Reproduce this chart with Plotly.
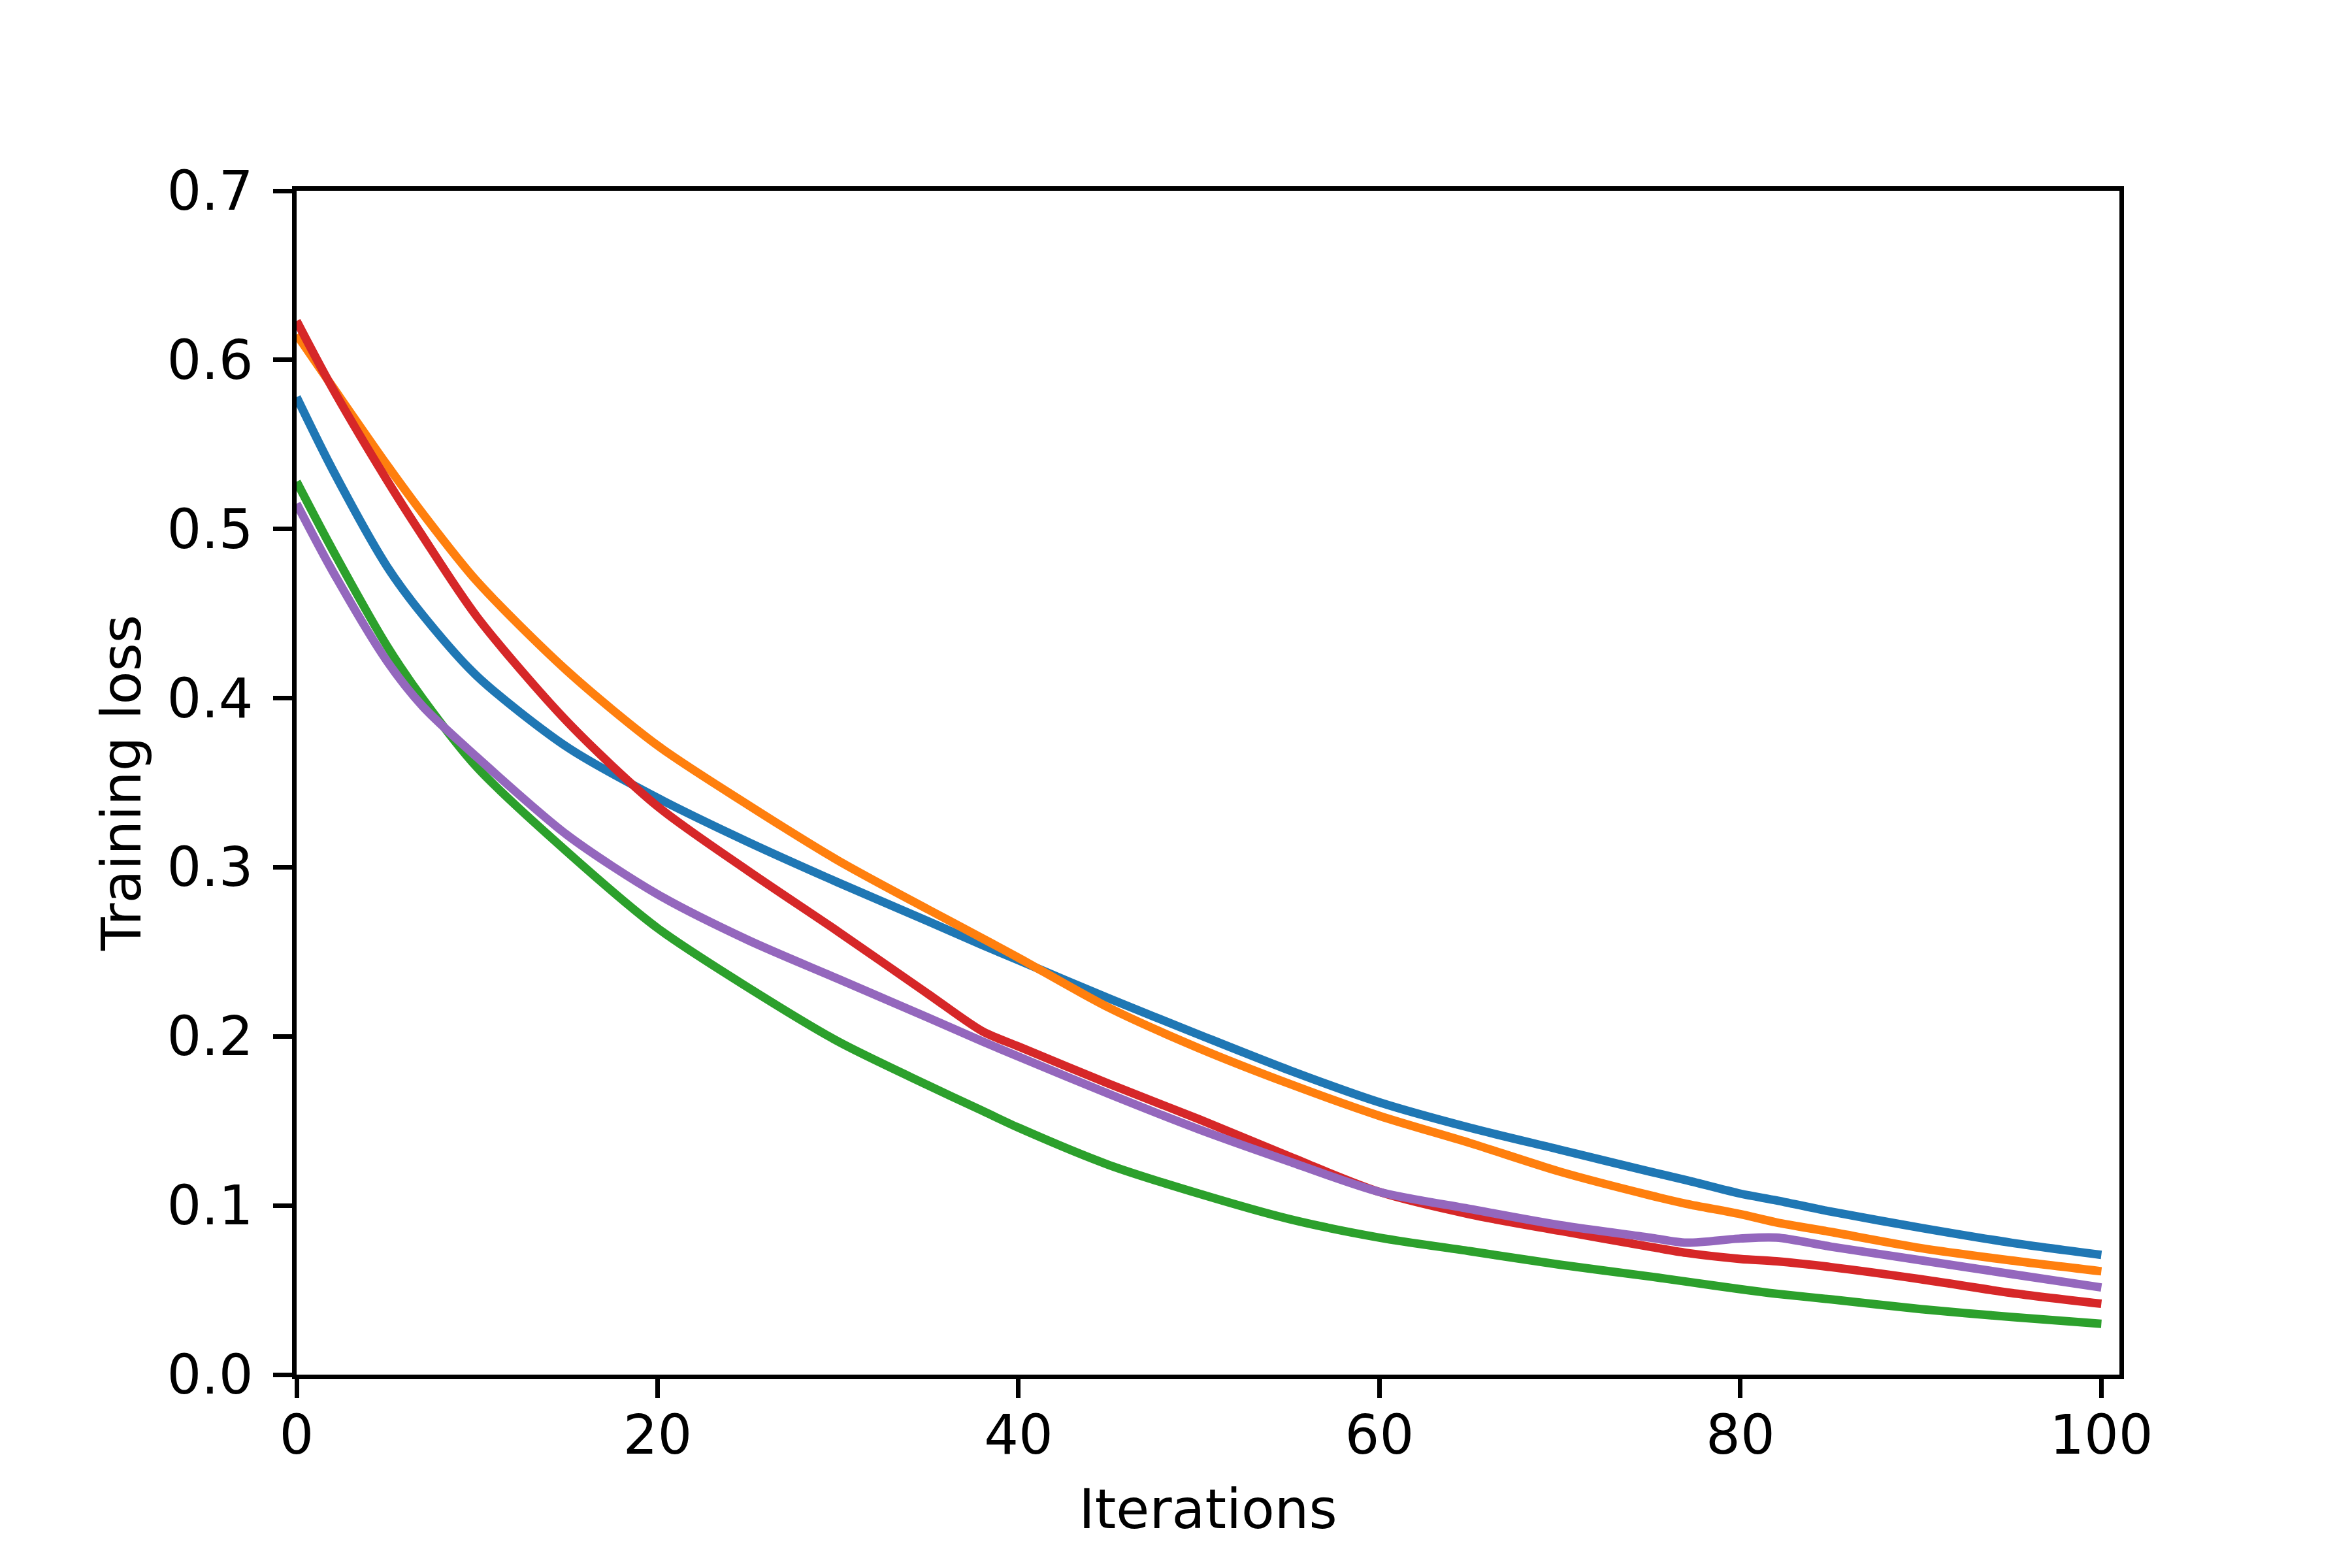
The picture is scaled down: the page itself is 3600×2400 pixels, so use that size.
import plotly.graph_objects as go

iterations = [0, 2, 5, 7, 10, 15, 20, 25, 30, 35, 38, 40, 45, 50, 55, 60,
              65, 70, 75, 77, 80, 82, 85, 90, 95, 100]

loss_blue = [0.578, 0.535, 0.478, 0.449, 0.413, 0.371, 0.341, 0.315, 0.291, 0.268,
             0.254, 0.245, 0.2225, 0.201, 0.180, 0.161, 0.146, 0.133, 0.120, 0.115,
             0.107, 0.103, 0.0964, 0.0868, 0.078, 0.0708]
loss_orange = [0.615, 0.584, 0.538, 0.509, 0.469, 0.416, 0.372, 0.337, 0.304, 0.275,
               0.258, 0.2465, 0.217, 0.193, 0.172, 0.153, 0.137, 0.120, 0.106, 0.101,
               0.0949, 0.090, 0.0844, 0.0748, 0.0675, 0.0611]
loss_green = [0.528, 0.4875, 0.431, 0.3995, 0.359, 0.309, 0.264, 0.229, 0.197, 0.171,
              0.156, 0.146, 0.124, 0.107, 0.092, 0.081, 0.073, 0.065, 0.058, 0.055,
              0.0505, 0.0478, 0.0445, 0.0387, 0.0341, 0.030]
loss_red = [0.623, 0.583, 0.529, 0.4955, 0.448, 0.386, 0.336, 0.298, 0.262, 0.225,
            0.203, 0.194, 0.172, 0.151, 0.129, 0.108, 0.0948, 0.085, 0.0756, 0.072,
            0.0684, 0.067, 0.0636, 0.0564, 0.0483, 0.0419]
loss_purple = [0.515, 0.475, 0.422, 0.395, 0.365, 0.319, 0.284, 0.257, 0.234, 0.211,
               0.197, 0.188, 0.166, 0.145, 0.126, 0.108, 0.098, 0.0884, 0.081, 0.078,
               0.0805, 0.081, 0.0757, 0.0676, 0.0595, 0.0515]

series = [
    (loss_blue, "#1f77b4"),
    (loss_orange, "#ff7f0e"),
    (loss_green, "#2ca02c"),
    (loss_red, "#d62728"),
    (loss_purple, "#9467bd"),
]

fig = go.Figure()
for vals, color in series:
    fig.add_trace(go.Scatter(
        x=iterations, y=vals, mode="lines",
        line=dict(color=color, width=13, shape="spline", smoothing=0.8),
        showlegend=False,
    ))

axis_style = dict(
    showline=True, mirror=True, linecolor="black", linewidth=6.7,
    ticks="outside", ticklen=29, tickwidth=6.7, tickcolor="black",
    showgrid=False, zeroline=False,
    tickfont=dict(family="DejaVu Sans", size=83, color="black"),
)

fig.update_xaxes(
    range=[0, 101], tickvals=[0, 20, 40, 60, 80, 100],
    title=dict(text="Iterations", font=dict(family="DejaVu Sans", size=83, color="black"),
               standoff=39),
    ticklabelstandoff=-14,
    **axis_style,
)
fig.update_yaxes(
    range=[0, 0.7], tickvals=[0, 0.1, 0.2, 0.3, 0.4, 0.5, 0.6, 0.7],
    ticktext=["0.0", "0.1", "0.2", "0.3", "0.4", "0.5", "0.6", "0.7"],
    title=dict(text="Training loss", font=dict(family="DejaVu Sans", size=83, color="black"),
               standoff=15),
    ticklabelstandoff=14,
    **axis_style,
)

fig.update_layout(
    width=3600, height=2400,
    margin=dict(l=446, r=364, t=284, b=304),
    paper_bgcolor="white", plot_bgcolor="white",
    font=dict(family="DejaVu Sans", size=83, color="black"),
)

fig.write_html("out.html")
